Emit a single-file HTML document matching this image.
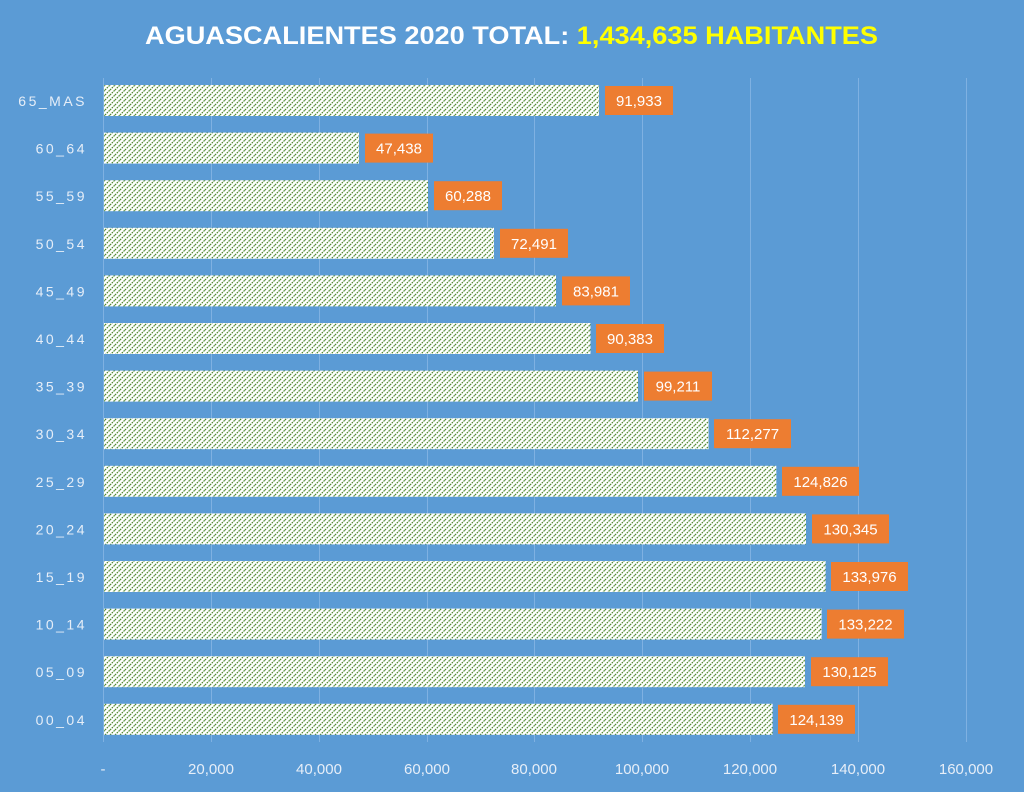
<!DOCTYPE html>
<html><head><meta charset="utf-8"><style>
html,body{margin:0;padding:0;background:#5b9bd5;}
svg{display:block;font-family:"Liberation Sans",sans-serif;}
</style></head><body>
<svg width="1024" height="792" viewBox="0 0 1024 792">
<defs>
<pattern id="h" patternUnits="userSpaceOnUse" width="5" height="5">
<rect width="5" height="5" fill="#ffffff"/>
<path d="M-1,1 L1,-1 M0,5 L5,0 M4,6 L6,4" stroke="#4f8a2e" stroke-width="1.2" stroke-dasharray="1.6,0.9"/>
</pattern>
</defs>
<rect width="1024" height="792" fill="#5b9bd5"/>
<g stroke="#7fb1e2" stroke-width="1">
<line x1="103.5" y1="78" x2="103.5" y2="742"/>
<line x1="211.5" y1="78" x2="211.5" y2="742"/>
<line x1="319.5" y1="78" x2="319.5" y2="742"/>
<line x1="427.5" y1="78" x2="427.5" y2="742"/>
<line x1="534.5" y1="78" x2="534.5" y2="742"/>
<line x1="642.5" y1="78" x2="642.5" y2="742"/>
<line x1="750.5" y1="78" x2="750.5" y2="742"/>
<line x1="858.5" y1="78" x2="858.5" y2="742"/>
<line x1="966.5" y1="78" x2="966.5" y2="742"/>
</g>
<text x="145" y="44" font-size="25" font-weight="bold" fill="#ffffff" textLength="733" lengthAdjust="spacingAndGlyphs">AGUASCALIENTES 2020 TOTAL: <tspan fill="#ffff00">1,434,635 HABITANTES</tspan></text>
<g font-size="15" fill="#e6eef8" text-anchor="middle">
<text x="103" y="774">-</text>
<text x="211" y="774">20,000</text>
<text x="319" y="774">40,000</text>
<text x="427" y="774">60,000</text>
<text x="534" y="774">80,000</text>
<text x="642" y="774">100,000</text>
<text x="750" y="774">120,000</text>
<text x="858" y="774">140,000</text>
<text x="966" y="774">160,000</text>
</g>
<g font-size="14" fill="#e6eef8" text-anchor="end" letter-spacing="2.5">
<text x="87" y="106">65_MAS</text>
<text x="87" y="153.6">60_64</text>
<text x="87" y="201.2">55_59</text>
<text x="87" y="248.8">50_54</text>
<text x="87" y="296.4">45_49</text>
<text x="87" y="344">40_44</text>
<text x="87" y="391.6">35_39</text>
<text x="87" y="439.2">30_34</text>
<text x="87" y="486.8">25_29</text>
<text x="87" y="534.4">20_24</text>
<text x="87" y="582">15_19</text>
<text x="87" y="629.6">10_14</text>
<text x="87" y="677.2">05_09</text>
<text x="87" y="724.8">00_04</text>
</g>
<g fill="url(#h)">
<rect x="104" y="85" width="495" height="31"/>
<rect x="104" y="132.6" width="255" height="31"/>
<rect x="104" y="180.2" width="324" height="31"/>
<rect x="104" y="227.8" width="390" height="31"/>
<rect x="104" y="275.4" width="452" height="31"/>
<rect x="104" y="323" width="486.5" height="31"/>
<rect x="104" y="370.6" width="534" height="31"/>
<rect x="104" y="418.2" width="604.6" height="31"/>
<rect x="104" y="465.8" width="672.3" height="31"/>
<rect x="104" y="513.4" width="702" height="31"/>
<rect x="104" y="561" width="721.6" height="31"/>
<rect x="104" y="608.6" width="717.6" height="31"/>
<rect x="104" y="656.2" width="701" height="31"/>
<rect x="104" y="703.8" width="668.6" height="31"/>
</g>
<g fill="#ed7d31">
<rect x="605" y="86" width="68" height="29"/>
<rect x="365" y="133.6" width="68" height="29"/>
<rect x="434" y="181.2" width="68" height="29"/>
<rect x="500" y="228.8" width="68" height="29"/>
<rect x="562" y="276.4" width="68" height="29"/>
<rect x="596" y="324" width="68" height="29"/>
<rect x="644" y="371.6" width="68" height="29"/>
<rect x="714" y="419.2" width="77" height="29"/>
<rect x="782" y="466.8" width="77" height="29"/>
<rect x="812" y="514.4" width="77" height="29"/>
<rect x="831" y="562" width="77" height="29"/>
<rect x="827" y="609.6" width="77" height="29"/>
<rect x="811" y="657.2" width="77" height="29"/>
<rect x="778" y="704.8" width="77" height="29"/>
</g>
<g font-size="15" fill="#ffffff" text-anchor="middle">
<text x="639" y="106">91,933</text>
<text x="399" y="153.6">47,438</text>
<text x="468" y="201.2">60,288</text>
<text x="534" y="248.8">72,491</text>
<text x="596" y="296.4">83,981</text>
<text x="630" y="344">90,383</text>
<text x="678" y="391.6">99,211</text>
<text x="752.5" y="439.2">112,277</text>
<text x="820.5" y="486.8">124,826</text>
<text x="850.5" y="534.4">130,345</text>
<text x="869.5" y="582">133,976</text>
<text x="865.5" y="629.6">133,222</text>
<text x="849.5" y="677.2">130,125</text>
<text x="816.5" y="724.8">124,139</text>
</g>
</svg>
</body></html>
